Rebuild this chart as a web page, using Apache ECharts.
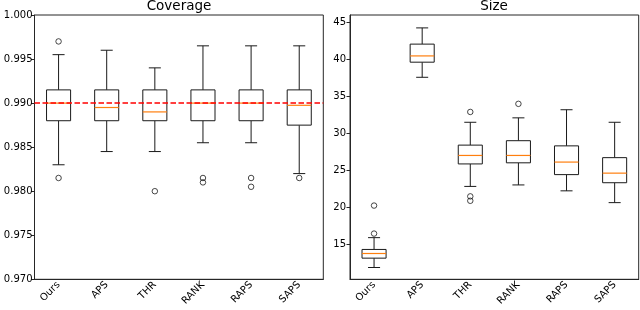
<!DOCTYPE html>
<html>
<head>
<meta charset="utf-8">
<script src="https://cdn.jsdelivr.net/npm/echarts@6/dist/echarts.min.js"></script>
<style>html,body{margin:0;padding:0;background:#fff}#c{width:640px;height:310px}</style>
</head>
<body>
<div id="c"></div>
<script>
const categories = ['Ours', 'APS', 'THR', 'RANK', 'RAPS', 'SAPS'];
// [lower whisker, Q1, median, Q3, upper whisker]
const coverageStats = [
  [0.983, 0.988, 0.990, 0.9915, 0.9955],
  [0.9845, 0.988, 0.9895, 0.9915, 0.996],
  [0.9845, 0.988, 0.989, 0.9915, 0.994],
  [0.9855, 0.988, 0.990, 0.9915, 0.9965],
  [0.9855, 0.988, 0.990, 0.9915, 0.9965],
  [0.982, 0.9875, 0.98975, 0.9915, 0.9965]
];
const coverageOutliers = [[0, 0.997], [0, 0.9815], [2, 0.980], [3, 0.9815], [3, 0.981], [4, 0.9815], [4, 0.9805], [5, 0.9815]];
const coverageTarget = 0.990;
const sizeStats = [
  [11.8, 13.07, 13.7, 14.25, 15.85],
  [37.6, 39.65, 40.5, 42.1, 44.3],
  [22.8, 25.85, 27.0, 28.4, 31.5],
  [23.0, 26.0, 27.0, 29.0, 32.1],
  [22.2, 24.4, 26.1, 28.3, 33.2],
  [20.6, 23.3, 24.6, 26.7, 31.5]
];
const sizeOutliers = [[0, 20.2], [0, 16.4], [2, 32.9], [2, 21.45], [2, 20.85], [3, 34.0]];
const coverageTicks = [0.970, 0.975, 0.980, 0.985, 0.990, 0.995, 1.000];
const sizeTicks = [15, 20, 25, 30, 35, 40, 45];

const FONT = 'DejaVu Sans';
const AX = '#262626';

function boxData(stats) {
  return stats.map((s, i) => [i].concat(s));
}

function renderBox(params, api) {
  const i = api.value(0);
  const band = api.size([1, 0])[0];
  const half = band * 0.25;
  const cap = band * 0.125;
  const pLo = api.coord([i, api.value(1)]);
  const pQ1 = api.coord([i, api.value(2)]);
  const pMed = api.coord([i, api.value(3)]);
  const pQ3 = api.coord([i, api.value(4)]);
  const pHi = api.coord([i, api.value(5)]);
  const cx = pMed[0];
  const ls = { stroke: '#1a1a1a', lineWidth: 1, fill: null };
  return {
    type: 'group',
    children: [
      { type: 'line', shape: { x1: cx, y1: pQ1[1], x2: cx, y2: pLo[1] }, style: ls },
      { type: 'line', shape: { x1: cx, y1: pQ3[1], x2: cx, y2: pHi[1] }, style: ls },
      { type: 'line', shape: { x1: cx - cap, y1: pLo[1], x2: cx + cap, y2: pLo[1] }, style: ls },
      { type: 'line', shape: { x1: cx - cap, y1: pHi[1], x2: cx + cap, y2: pHi[1] }, style: ls },
      { type: 'rect', shape: { x: cx - half, y: pQ3[1], width: half * 2, height: pQ1[1] - pQ3[1] }, style: { stroke: '#1a1a1a', lineWidth: 1, fill: '#fff' } },
      { type: 'line', shape: { x1: cx - half, y1: pMed[1], x2: cx + half, y2: pMed[1] }, style: { stroke: '#ff7f0e', lineWidth: 1.2 } }
    ]
  };
}

function xAxis(gi) {
  return {
    type: 'category', gridIndex: gi, data: categories, boundaryGap: true,
    axisLine: { lineStyle: { color: AX, width: 1 } },
    axisTick: { alignWithLabel: true, length: 3.5, lineStyle: { color: AX } },
    axisLabel: { rotate: 45, fontFamily: FONT, fontSize: 10, color: '#000', margin: 4, interval: 0 },
    splitLine: { show: false }
  };
}

const chart = echarts.init(document.getElementById('c'), null, { renderer: 'canvas' });
chart.setOption({
  animation: false,
  backgroundColor: '#fff',
  title: [
    { text: 'Coverage', left: 179, textAlign: 'center', top: -0.5, padding: 0, textStyle: { fontFamily: FONT, fontSize: 13.5, fontWeight: 'normal', color: '#000' } },
    { text: 'Size', left: 494, textAlign: 'center', top: -0.5, padding: 0, textStyle: { fontFamily: FONT, fontSize: 13.5, fontWeight: 'normal', color: '#000' } }
  ],
  grid: [
    { left: 34.5, right: 316.7, top: 15, bottom: 30.7, show: true, borderColor: AX, borderWidth: 1, backgroundColor: 'transparent' },
    { left: 350, right: 1.3, top: 15, bottom: 30.7, show: true, borderColor: AX, borderWidth: 1, backgroundColor: 'transparent' }
  ],
  xAxis: [xAxis(0), xAxis(1)],
  yAxis: [
    {
      type: 'value', gridIndex: 0, min: 0.970, max: 1.000,
      axisLine: { show: true, lineStyle: { color: AX } },
      axisTick: { show: true, length: 3.5, lineStyle: { color: AX }, customValues: coverageTicks },
      axisLabel: { fontFamily: FONT, fontSize: 10, color: '#000', margin: 2, customValues: coverageTicks, formatter: v => v.toFixed(3) },
      splitLine: { show: false }
    },
    {
      type: 'value', gridIndex: 1, min: 10.2, max: 46.05,
      axisLine: { show: true, lineStyle: { color: AX } },
      axisTick: { show: true, length: 3.5, lineStyle: { color: AX }, customValues: sizeTicks },
      axisLabel: { fontFamily: FONT, fontSize: 10, color: '#000', margin: 4, customValues: sizeTicks, formatter: v => String(Math.round(v)) },
      splitLine: { show: false }
    }
  ],
  series: [
    {
      type: 'custom', xAxisIndex: 0, yAxisIndex: 0, renderItem: renderBox,
      encode: { x: 0, y: [1, 2, 3, 4, 5] }, data: boxData(coverageStats), z: 2
    },
    {
      type: 'scatter', xAxisIndex: 0, yAxisIndex: 0, data: coverageOutliers,
      symbol: 'circle', symbolSize: 5.5,
      itemStyle: { color: 'transparent', borderColor: '#1a1a1a', borderWidth: 1 }, z: 3,
      markLine: {
        silent: true, symbol: 'none', label: { show: false },
        lineStyle: { color: '#ff0000', type: [5.5, 2.5], width: 1.5 },
        data: [{ yAxis: coverageTarget }], z: 5
      }
    },
    {
      type: 'custom', xAxisIndex: 1, yAxisIndex: 1, renderItem: renderBox,
      encode: { x: 0, y: [1, 2, 3, 4, 5] }, data: boxData(sizeStats), z: 2
    },
    {
      type: 'scatter', xAxisIndex: 1, yAxisIndex: 1, data: sizeOutliers,
      symbol: 'circle', symbolSize: 5.5,
      itemStyle: { color: 'transparent', borderColor: '#1a1a1a', borderWidth: 1 }, z: 3
    }
  ]
});
</script>
</body>
</html>
